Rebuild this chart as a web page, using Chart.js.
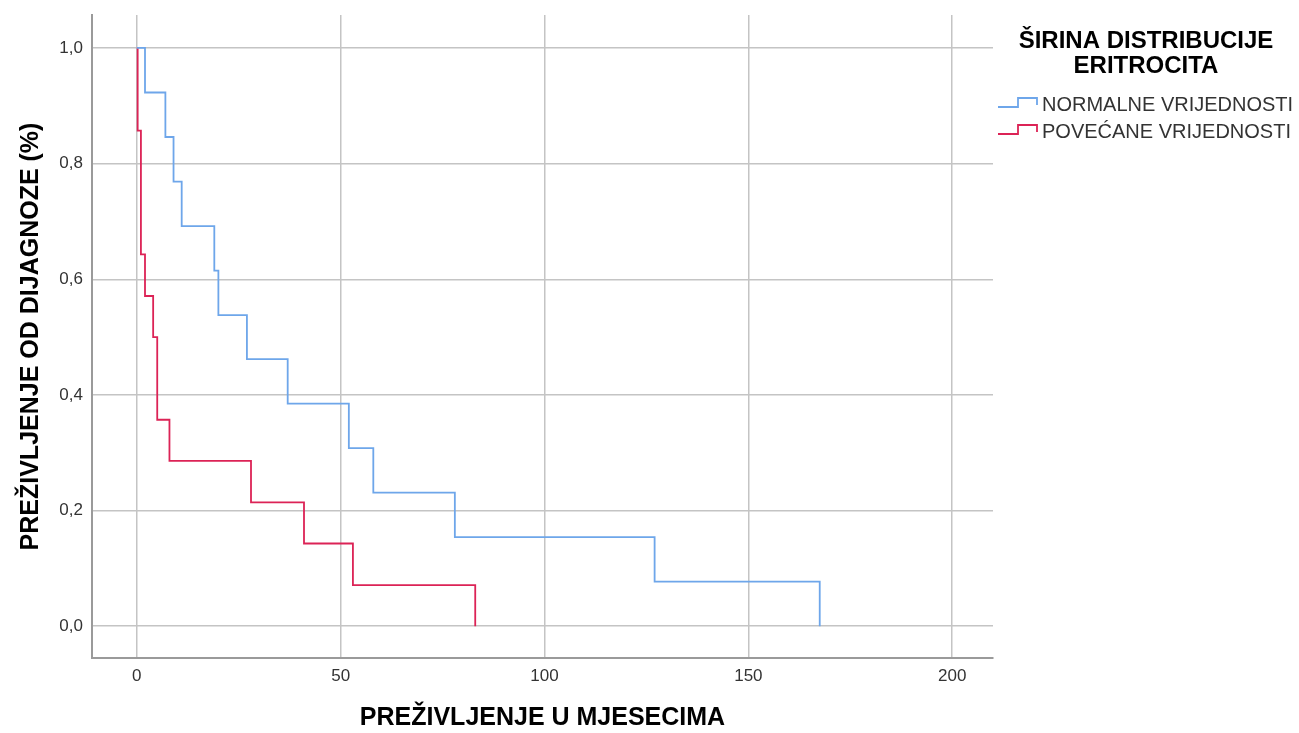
<!DOCTYPE html>
<html>
<head>
<meta charset="utf-8">
<script src="https://cdn.jsdelivr.net/npm/chart.js@4/dist/chart.umd.min.js"></script>
<style>
  body { margin: 0; background: #fff; }
  #wrap { width: 1299px; height: 733px; }
</style>
</head>
<body>
<div id="wrap"><canvas id="graf" width="1299" height="733"></canvas></div>
<script>
// podaci - Kaplan-Meier krivulje
const normalneMjeseci = [0, 2, 7, 9, 11, 19, 20, 27, 37, 52, 58, 78, 127, 167.5]
const normalnePrezivljenje = [1, 0.923, 0.846, 0.769, 0.692, 0.615, 0.538, 0.462, 0.385, 0.308, 0.231, 0.154, 0.077, 0]

const povecaneMjeseci = [0, 0.2, 1, 2, 4, 5, 8, 28, 41, 53, 83]
const povecanePrezivljenje = [1, 0.857, 0.643, 0.571, 0.5, 0.357, 0.286, 0.214, 0.143, 0.071, 0]

const xTicks = [0, 50, 100, 150, 200]
const yTicks = [0, 0.2, 0.4, 0.6, 0.8, 1.0]

const naslovLegende = ['ŠIRINA DISTRIBUCIJE', 'ERITROCITA']
const nazivi = ['NORMALNE VRIJEDNOSTI', 'POVEĆANE VRIJEDNOSTI']
const boje = ['#6ea6ea', '#dc2356']

function tocke(xs, ys) {
    return xs.map((x, i) => ({ x: x, y: ys[i] }))
}

// legenda sa stepenastim simbolom
const legenda = {
    id: 'legenda',
    afterDraw(chart) {
        const ctx = chart.ctx
        ctx.save()
        ctx.fillStyle = '#000'
        ctx.font = 'bold 24px "Liberation Sans", Arial, sans-serif'
        ctx.textAlign = 'center'
        ctx.textBaseline = 'middle'
        ctx.fillText(naslovLegende[0], 1146, 41)
        ctx.fillText(naslovLegende[1], 1146, 66)

        ctx.font = '20px "Liberation Sans", Arial, sans-serif'
        ctx.textAlign = 'left'
        chart.data.datasets.forEach((ds, i) => {
            const y = 105 + i * 27
            ctx.strokeStyle = ds.borderColor
            ctx.lineWidth = 1.8
            ctx.beginPath()
            ctx.moveTo(998, y + 2)
            ctx.lineTo(1018, y + 2)
            ctx.lineTo(1018, y - 7)
            ctx.lineTo(1037, y - 7)
            ctx.lineTo(1037, y)
            ctx.stroke()
            ctx.fillStyle = '#333'
            ctx.fillText(ds.label, 1042, y)
        })
        ctx.restore()
    }
}

const rg = document.getElementById('graf').getContext('2d')

const data = {
    datasets: [{
        label: nazivi[0],
        data: tocke(normalneMjeseci, normalnePrezivljenje),
        borderColor: boje[0],
        borderWidth: 1.8,
        stepped: true,
        pointRadius: 0,
        fill: false
    }, {
        label: nazivi[1],
        data: tocke(povecaneMjeseci, povecanePrezivljenje),
        borderColor: boje[1],
        borderWidth: 1.8,
        stepped: true,
        pointRadius: 0,
        fill: false
    }]
}

const config = {
    type: 'line',
    data,
    options: {
        responsive: false,
        animation: false,
        layout: { padding: { top: 15, right: 306, left: 0, bottom: 0 } },
        plugins: {
            legend: { display: false },
            tooltip: { enabled: false }
        },
        scales: {
            x: {
                type: 'linear',
                min: -11,
                max: 210,
                afterBuildTicks: s => { s.ticks = xTicks.map(v => ({ value: v })) },
                afterFit: s => { s.height = 75; s.paddingLeft = 0; s.paddingRight = 0 },
                grid: { color: '#c4c4c4', lineWidth: 1.5, drawTicks: false },
                border: { display: true, color: '#9a9a9a', width: 2 },
                ticks: {
                    padding: 8,
                    color: '#333',
                    font: { family: '"Liberation Sans", Arial', size: 17 }
                },
                title: {
                    display: true,
                    text: 'PREŽIVLJENJE U MJESECIMA',
                    color: '#000',
                    padding: { top: 0, bottom: 0 },
                    font: { family: '"Liberation Sans", Arial', size: 25, weight: 'bold' }
                }
            },
            y: {
                type: 'linear',
                min: -0.055,
                max: 1.057,
                afterBuildTicks: s => { s.ticks = yTicks.map(v => ({ value: v })) },
                afterFit: s => { s.width = 92; s.paddingTop = 0; s.paddingBottom = 0 },
                grid: { color: '#c4c4c4', lineWidth: 1.5, drawTicks: false },
                border: { display: true, color: '#9a9a9a', width: 2 },
                ticks: {
                    padding: 9,
                    color: '#333',
                    font: { family: '"Liberation Sans", Arial', size: 17 },
                    callback: v => v.toFixed(1).replace('.', ',')
                },
                title: {
                    display: true,
                    text: 'PREŽIVLJENJE OD DIJAGNOZE (%)',
                    color: '#000',
                    padding: { top: 16, bottom: 0 },
                    font: { family: '"Liberation Sans", Arial', size: 25, weight: 'bold' }
                }
            }
        }
    },
    plugins: [legenda]
}

const myChart = new Chart(rg, config)
</script>
</body>
</html>
